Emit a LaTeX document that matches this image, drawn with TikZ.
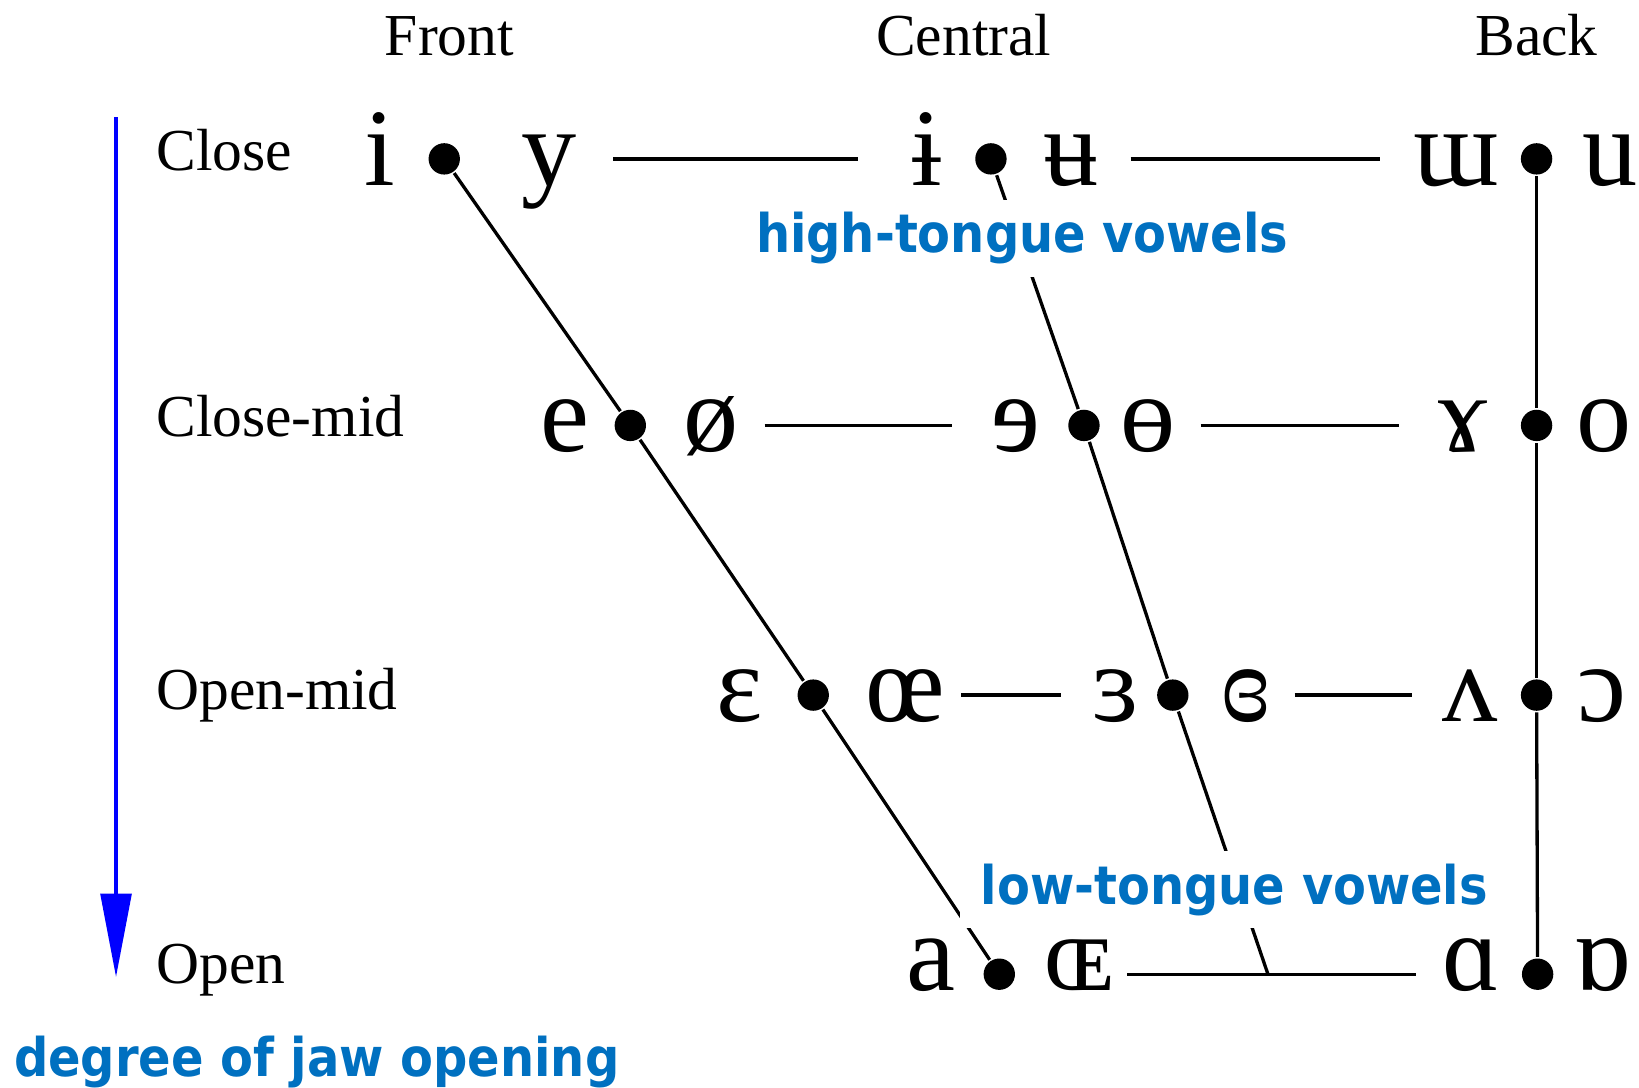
\documentclass[tikz,border=0pt]{standalone}
\usepackage{fontspec}
\setmainfont{Liberation Serif}
\newfontfamily\notefont{DejaVu Sans Condensed}
\usetikzlibrary{arrows.meta}
\definecolor{noteblue}{HTML}{0070C0}
\newcommand\vowelfont{\fontsize{30}{30}\selectfont}
\newcommand\labfont{\fontsize{16.2}{18}\selectfont}
\newcommand\notesize{\notefont\bfseries\fontsize{14.5}{16}\selectfont}

\begin{document}
\begin{tikzpicture}[line width=.9pt]%
        \useasboundingbox (0,0) rectangle (15.68,-10.40);%%
        \coordinate (jawtop) at (1.11,-1.12); %%
        \coordinate (jawbot) at (1.11,-9.35); %%
        \coordinate (m42) at (12.13,-9.32); %%
        \begin{scope}
        \tikzstyle{every node}=[font=\labfont,inner sep=0pt] %%
        \node[anchor=base] (h1) at (4.30,-0.53)  {Front}; %%
        \node[anchor=base] (h2) at (9.22,-0.53)  {Central}; %%
        \node[anchor=base] (h3) at (14.70,-0.53)  {Back}; %%
        \node[anchor=base west] (l1) at (1.48,-1.63)  {Close}; %%
        \node[anchor=base west] (l2) at (1.48,-4.18)  {Close-mid}; %%
        \node[anchor=base west] (l3) at (1.48,-6.79)  {Open-mid}; %%
        \node[anchor=base west] (l4) at (1.48,-9.41)  {Open}; %%
        \end{scope}
        \begin{scope}[shape=circle,inner sep=0pt,fill=black]
        \tikzstyle{every node}=[circle,fill=black,minimum size=.3cm] %%
        \node (d11) at (4.25,-1.52)  {}; %%
        \node (d12) at (9.48,-1.52)  {}; %%
        \node (d13) at (14.70,-1.52)  {}; %%
        \node (d21) at (6.03,-4.07)  {}; %%
        \node (d22) at (10.37,-4.07)  {}; %%
        \node (d23) at (14.70,-4.07)  {}; %%
        \node (d31) at (7.78,-6.65)  {}; %%
        \node (d32) at (11.22,-6.65)  {}; %%
        \node (d33) at (14.70,-6.65)  {}; %%
        \node (d41) at (9.56,-9.32)  {}; %%
        \node (d43) at (14.71,-9.32)  {}; %%
        \end{scope}
        \begin{scope}
        \tikzstyle{every node}=[font=\vowelfont,inner sep=0pt,text height=.5cm,text depth=0pt,minimum width=.9cm] %%
        \node (u11) at (3.63,-1.52)  {i}; %%
        \node (r11) at (5.25,-1.52)  {y}; %%
        \node (u12) at (8.87,-1.52)  {ɨ}; %%
        \node (r12) at (10.25,-1.52)  {ʉ}; %%
        \node (u13) at (13.93,-1.52)  {ɯ}; %%
        \node (r13) at (15.40,-1.52)  {u}; %%
        \node (u21) at (5.40,-4.07)  {e}; %%
        \node (r21) at (6.80,-4.07)  {ø}; %%
        \node (u22) at (9.72,-4.07)  {ɘ}; %%
        \node (r22) at (10.98,-4.07)  {ɵ}; %%
        \node (u23) at (14.00,-4.07)  {ɤ}; %%
        \node (r23) at (15.35,-4.07)  {o}; %%
        \node (u31) at (7.08,-6.65)  {ɛ}; %%
        \node (r31) at (8.66,-6.65)  {œ}; %%
        \node (u32) at (10.67,-6.65)  {ɜ}; %%
        \node (r32) at (11.92,-6.65)  {ɞ}; %%
        \node (u33) at (14.06,-6.65)  {ʌ}; %%
        \node (r33) at (15.33,-6.65)  {ɔ}; %%
        \node[text height=.32cm] (u41) at (8.91,-9.32)  {a}; %%
        \node[text height=.32cm] (r41) at (10.32,-9.32)  {ɶ}; %%
        \node[text height=.32cm] (u43) at (14.08,-9.32)  {ɑ}; %%
        \node[text height=.32cm] (r43) at (15.33,-9.32)  {ɒ}; %%
        \end{scope}
\draw[blue,line width=1.3pt,-{Triangle[length=8mm,width=2.9mm]}] (jawtop)--(jawbot); %%
\draw (d11)--(d21); %%
\draw (d21)--(d31); %%
\draw (d31)--(d41); %%
\draw (d12)--(d22); %%
\draw (d22)--(d32); %%
\draw (d32)--(m42); %%
\draw (d13)--(d23); %%
\draw (d23)--(d33); %%
\draw (d33)--(d43); %%
\draw[shorten <=.15cm,shorten >=.20cm] (r11)--(u12); %%
\draw[shorten <=.10cm,shorten >=.26cm] (r12)--(u13); %%
\draw[shorten <=.05cm,shorten >=.15cm] (r21)--(u22); %%
\draw[shorten <=.04cm,shorten >=.15cm] (r22)--(u23); %%
\draw[shorten <=.07cm,shorten >=.05cm] (r31)--(u32); %%
\draw[shorten >=.09cm] (r32)--(u33); %%
\draw[shorten >=.07cm] (r41)--(u43); %%
        \begin{scope}
        \tikzstyle{every node}=[font=\notesize,text=noteblue,fill=white,inner xsep=.2cm,inner ysep=.12cm] %%
        \node[anchor=base] (t1) at (9.78,-2.42)  {high-tongue vowels}; %%
        \node[anchor=base] (t2) at (11.81,-8.65)  {low-tongue vowels}; %%
        \node[anchor=base west,fill=none,inner sep=0pt] (t3) at (0.12,-10.30)  {degree of jaw opening}; %%
        \end{scope}
\end{tikzpicture}
\end{document}
